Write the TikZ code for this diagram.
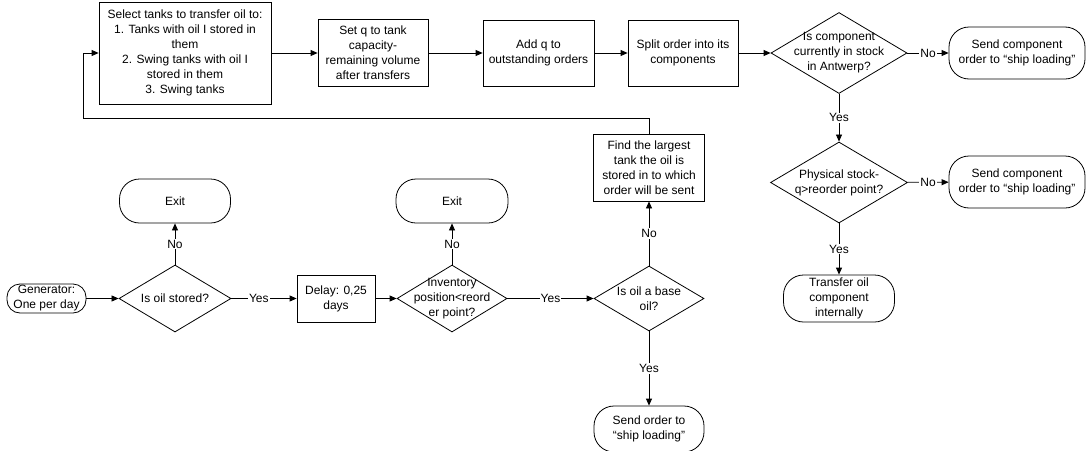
\documentclass[tikz,border=0pt]{standalone}
\usepackage{fontspec}
\setmainfont{Liberation Sans}
\usetikzlibrary{arrows.meta,shapes.geometric}
\begin{document}
\begin{tikzpicture}[x=1pt,y=-1pt,
  every node/.style={font=\fontsize{12}{15}\selectfont, align=center, inner sep=0pt},
  sz/.style 2 args={minimum width=#1pt, minimum height=#2pt},
  proc/.style={draw, rectangle, line width=0.8pt},
  term/.style={draw, rectangle, rounded corners=#1, line width=0.8pt},
  dia/.style={draw, diamond, line width=0.8pt},
  lbl/.style={fill=white, inner sep=1pt},
  arr/.style={draw, line width=0.8pt, -{Triangle[length=7pt,width=6pt]}},
]
\useasboundingbox (0,0) rectangle (1086,450);

% top row
\node[proc, sz={172}{102}] (a) at (185,53) {Select tanks to transfer oil to:\\1. Tanks with oil I stored in\\them\\2. Swing tanks with oil I\\stored in them\\3. Swing tanks};
\node[proc, sz={110}{67}] (b) at (373,53) {Set q to tank\\capacity-\\remaining volume\\after transfers};
\node[proc, sz={111}{66}] (c) at (538.5,53) {Add q to\\outstanding orders};
\node[proc, sz={110}{66}] (d) at (683,53) {Split order into its\\components};
\node[dia, sz={136}{81}, label={[align=center]center:Is component\\currently in stock\\in Antwerp?}] (d1) at (839,53) {};
\node[term=20pt, sz={136}{52}] (t1) at (1017,53) {Send component\\order to “ship loading”};

% right column
\node[dia, sz={137}{81}, label={[align=center]center:Physical stock-\\q>reorder point?}] (d2) at (839,182.5) {};
\node[term=20pt, sz={136}{52}] (t2) at (1017,182) {Send component\\order to “ship loading”};
\node[term=20pt, sz={111}{47}] (t3) at (839,298.5) {Transfer oil\\component\\internally};

% bottom row
\node[term=13pt, sz={79}{29}] (g) at (46.5,298.5) {Generator:\\One per day};
\node[dia, sz={112}{67}, label={center:Is oil stored?}] (d3) at (175,298.5) {};
\node[term=20pt, sz={111}{44}] (e1) at (175,201) {Exit};
\node[proc, sz={78}{47}] (delay) at (336,298.5) {Delay: 0,25\\days};
\node[dia, sz={110}{67}, label={[align=center]center:Inventory\\position<reord\\er point?}] (d4) at (452,298.5) {};
\node[term=20pt, sz={112}{44}] (e2) at (452,201) {Exit};
\node[dia, sz={110}{65}, label={[align=center]center:Is oil a base\\oil?}] (d5) at (649,298.5) {};
\node[proc, sz={111}{67}] (f) at (649,167.5) {Find the largest\\tank the oil is\\stored in to which\\order will be sent};
\node[term=20pt, sz={110}{46}] (t4) at (649,429) {Send order to\\“ship loading”};

\coordinate (loop) at (83,118);

% connectors
\draw[arr] (a) -- (b);
\draw[arr] (b) -- (c);
\draw[arr] (c) -- (d);
\draw[arr] (d) -- (d1);
\draw[arr] (d1) -- node[lbl] {No} (t1);
\draw[arr] (d1) -- node[lbl] {Yes} (d2);
\draw[arr] (d2) -- node[lbl] {No} (t2);
\draw[arr] (d2) -- node[lbl] {Yes} (t3);
\draw[arr] (g) -- (d3);
\draw[arr] (d3) -- node[lbl] {No} (e1);
\draw[arr] (d3) -- node[lbl, pos=0.42] {Yes} (delay);
\draw[arr] (delay) -- (d4);
\draw[arr] (d4) -- node[lbl] {No} (e2);
\draw[arr] (d4) -- node[lbl] {Yes} (d5);
\draw[arr] (d5) -- node[lbl] {No} (f);
\draw[arr] (d5) -- node[lbl] {Yes} (t4);
\draw[arr] (f.north) |- (loop) |- (a.west);
\end{tikzpicture}
\end{document}
